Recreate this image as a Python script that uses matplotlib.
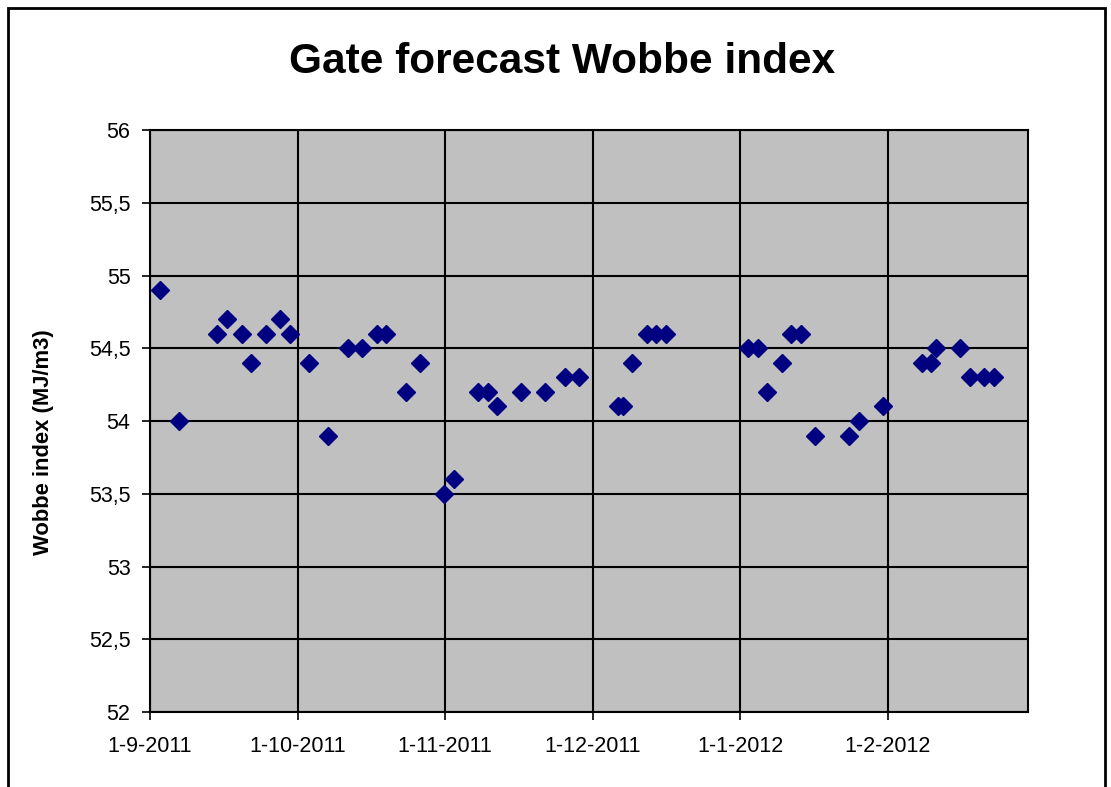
import datetime as dt
import numpy as np
import matplotlib
matplotlib.use("Agg")
from matplotlib import pyplot as plt
from matplotlib import dates as mdates
from matplotlib.patches import Rectangle
from matplotlib.ticker import FuncFormatter, MultipleLocator

plt.rcParams['font.family'] = ['Liberation Sans', 'DejaVu Sans']

# gate forecast readings
dates = [
    "2011-09-03", "2011-09-07", "2011-09-15", "2011-09-17", "2011-09-20",
    "2011-09-22", "2011-09-25", "2011-09-28", "2011-09-30", "2011-10-04",
    "2011-10-08", "2011-10-12", "2011-10-15", "2011-10-18", "2011-10-20",
    "2011-10-24", "2011-10-27", "2011-11-01", "2011-11-03", "2011-11-08",
    "2011-11-10", "2011-11-12", "2011-11-17", "2011-11-22", "2011-11-26",
    "2011-11-29", "2011-12-07", "2011-12-08", "2011-12-10", "2011-12-13",
    "2011-12-15", "2011-12-17", "2012-01-03", "2012-01-05", "2012-01-07",
    "2012-01-10", "2012-01-12", "2012-01-14", "2012-01-17", "2012-01-24",
    "2012-01-26", "2012-01-31", "2012-02-08", "2012-02-10", "2012-02-11",
    "2012-02-16", "2012-02-18", "2012-02-21", "2012-02-23",
]
wobbe = [
    54.9, 54.0, 54.6, 54.7, 54.6,
    54.4, 54.6, 54.7, 54.6, 54.4,
    53.9, 54.5, 54.5, 54.6, 54.6,
    54.2, 54.4, 53.5, 53.6, 54.2,
    54.2, 54.1, 54.2, 54.2, 54.3,
    54.3, 54.1, 54.1, 54.4, 54.6,
    54.6, 54.6, 54.5, 54.5, 54.2,
    54.4, 54.6, 54.6, 53.9, 53.9,
    54.0, 54.1, 54.4, 54.4, 54.5,
    54.5, 54.3, 54.3, 54.3,
]

x_start = "2011-09-01"
x_end = "2012-03-01"
major_step = 30.6  # excel-ish even spacing of the date gridlines

x = mdates.date2num([dt.datetime.strptime(d, "%Y-%m-%d") for d in dates])
x0 = mdates.date2num(dt.datetime.strptime(x_start, "%Y-%m-%d"))
x1 = mdates.date2num(dt.datetime.strptime(x_end, "%Y-%m-%d"))

fig = plt.figure(figsize=(11.11, 7.87), dpi=100)
ax = fig.add_axes([0.135, 0.0953, 0.79, 0.7395])
ax.set_facecolor("#C0C0C0")

ax.plot(x, wobbe, linestyle="none", marker="D", markersize=9,
        color="#000080", markeredgecolor="#000080")

ax.set_xlim(x0, x1)
ax.set_ylim(52, 56)
ax.yaxis.set_major_locator(MultipleLocator(0.5))
ax.yaxis.set_major_formatter(FuncFormatter(
    lambda v, p: (f"{v:g}").replace(".", ",")))

ticks = x0 + major_step * np.arange(6)
ax.set_xticks(ticks)


def date_label(v, p):
    d = mdates.num2date(np.floor(v))
    return f"{d.day}-{d.month}-{d.year}"


ax.xaxis.set_major_formatter(FuncFormatter(date_label))

ax.grid(True, color="black", linewidth=1.5)
ax.set_axisbelow(True)
for s in ax.spines.values():
    s.set_linewidth(1.5)
    s.set_color("black")
ax.tick_params(axis="both", direction="out", length=6, width=1.2,
               labelsize=15.5, color="black")
ax.tick_params(axis="x", pad=11)
ax.tick_params(axis="y", pad=8)

ax.set_ylabel("Wobbe index (MJ/m3)", fontsize=15.8, fontweight="bold")
ax.yaxis.set_label_coords(-0.109, 0.464)
fig.text(0.506, 0.921, "Gate forecast Wobbe index", ha="center",
         va="center", fontsize=30.5, fontweight="bold")

# chart area frame (bottom edge runs off the picture)
fig.patches.append(Rectangle((0.0072, -0.05), 0.987, 1.04, transform=fig.transFigure,
                             fill=False, edgecolor="black", linewidth=2))

fig.savefig("out.png", dpi=100)
